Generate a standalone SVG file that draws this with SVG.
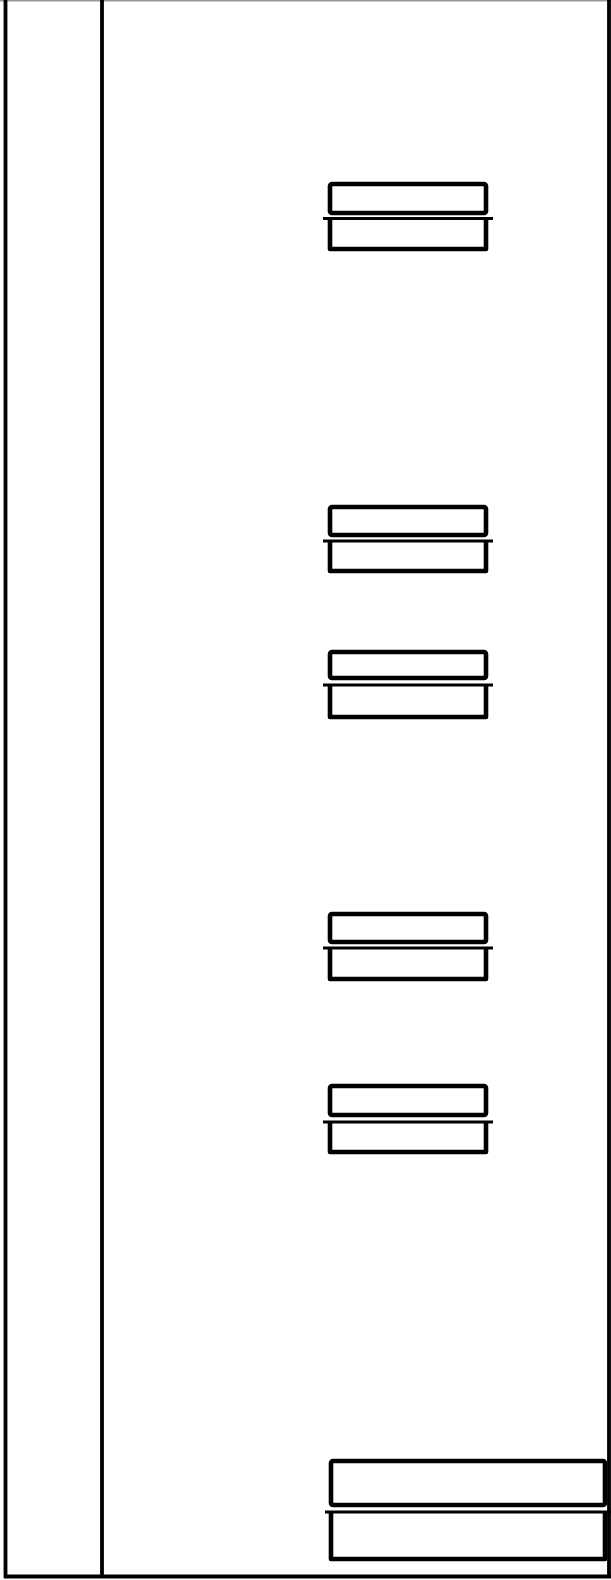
<svg xmlns="http://www.w3.org/2000/svg" width="611" height="1580" viewBox="0 0 611 1580">
<style>
.frame{fill:none;stroke:#000;stroke-width:3.8}
.box{fill:none;stroke:#000;stroke-width:4.6;stroke-linejoin:round}
.sep{stroke:#000;stroke-width:3.2}
</style>
<rect x="0" y="0" width="611" height="1580" fill="#fff"/>
<g id="frame">
<line x1="0" y1="0.8" x2="611" y2="0.8" stroke="#999" stroke-width="1.6"/>
<line x1="5.5" y1="0" x2="5.5" y2="1578" class="frame"/>
<line x1="102" y1="0" x2="102" y2="1578" class="frame" stroke-width="4"/>
<line x1="609" y1="0" x2="609" y2="1578" class="frame" stroke-width="4"/>
<line x1="4" y1="1576.5" x2="611" y2="1576.5" class="frame"/>
</g>
<g id="item1">
<rect x="330" y="184" width="156" height="29" rx="2" class="box"/>
<path d="M330 218 V249 H486 V218" class="box"/>
<line x1="323" y1="218.5" x2="493" y2="218.5" class="sep"/>
</g>
<g id="item2">
<rect x="330" y="507" width="156" height="28" rx="2" class="box"/>
<path d="M330 541 V571 H486 V541" class="box"/>
<line x1="323" y1="541" x2="493" y2="541" class="sep"/>
</g>
<g id="item3">
<rect x="330" y="652" width="156" height="26" rx="2" class="box"/>
<path d="M330 685 V717 H486 V685" class="box"/>
<line x1="323" y1="685" x2="493" y2="685" class="sep"/>
</g>
<g id="item4">
<rect x="330" y="914" width="156" height="28" rx="2" class="box"/>
<path d="M330 948 V979 H486 V948" class="box"/>
<line x1="323" y1="948" x2="493" y2="948" class="sep"/>
</g>
<g id="item5">
<rect x="330" y="1086" width="156" height="29" rx="2" class="box"/>
<path d="M330 1122 V1152 H486 V1122" class="box"/>
<line x1="323" y1="1122" x2="493" y2="1122" class="sep"/>
</g>
<g id="item6">
<rect x="331" y="1461" width="274" height="44" rx="2" class="box"/>
<path d="M331 1512 V1559 H605 V1512" class="box"/>
<line x1="325" y1="1512" x2="611" y2="1512" class="sep"/>
</g>
</svg>
